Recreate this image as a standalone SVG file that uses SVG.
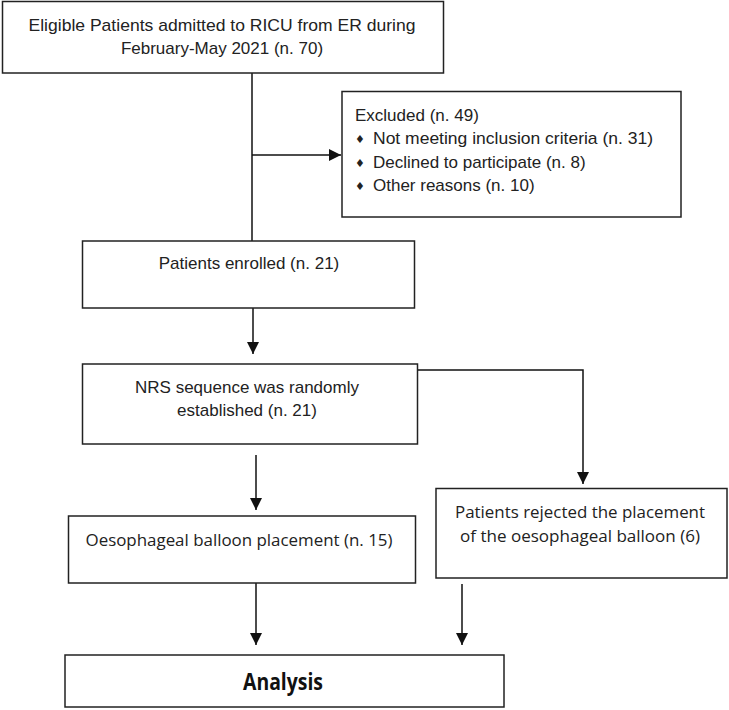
<svg xmlns="http://www.w3.org/2000/svg" width="729" height="710" viewBox="0 0 729 710">
<defs>
<style>
.box{fill:#fff;stroke:#222;stroke-width:1.5}
.ln{fill:none;stroke:#111;stroke-width:1.5}
.a{font-family:"Liberation Sans",Arial,sans-serif;font-size:17px;fill:#222}
.c{font-family:"Open Sans","Noto Sans",sans-serif;font-size:16px;fill:#222}
.b{font-family:"Open Sans","Noto Sans",sans-serif;font-size:23px;font-weight:bold;fill:#111}
.mid{text-anchor:middle}
.bul{font-family:"DejaVu Sans",sans-serif;font-size:11px;fill:#222}
</style>
<marker id="arr" markerWidth="12" markerHeight="14" refX="12" refY="7" orient="auto" markerUnits="userSpaceOnUse">
<path d="M0,1 L12,7 L0,13 Z" fill="#111"/>
</marker>
</defs>
<rect width="729" height="710" fill="#fff"/>
<g id="connectors">
<line class="ln" x1="252" y1="73" x2="252" y2="241"/>
<line class="ln" x1="252" y1="155" x2="341" y2="155" marker-end="url(#arr)"/>
<line class="ln" x1="253" y1="308" x2="253" y2="354" marker-end="url(#arr)"/>
<polyline class="ln" points="417,370 583,370 583,484" marker-end="url(#arr)"/>
<line class="ln" x1="256" y1="455" x2="256" y2="510" marker-end="url(#arr)"/>
<line class="ln" x1="256" y1="583" x2="256" y2="645" marker-end="url(#arr)"/>
<line class="ln" x1="462" y1="584" x2="462" y2="645" marker-end="url(#arr)"/>
</g>
<g id="eligible">
<rect class="box" x="2.5" y="1.5" width="441" height="71.5"/>
<text class="a mid" x="222" y="31" textLength="387" lengthAdjust="spacingAndGlyphs">Eligible Patients admitted to RICU from ER during</text>
<text class="a mid" x="222" y="54">February-May 2021  (n. 70)</text>
</g>
<g id="excluded">
<rect class="box" x="342" y="91.5" width="339" height="125.5"/>
<text class="a" x="355" y="121">Excluded  (n. 49)</text>
<text class="bul" x="355" y="143">♦</text>
<text class="a" x="373" y="144" textLength="280" lengthAdjust="spacingAndGlyphs">Not meeting inclusion criteria (n. 31)</text>
<text class="bul" x="355" y="167">♦</text>
<text class="a" x="373" y="168">Declined to participate (n. 8)</text>
<text class="bul" x="355" y="190">♦</text>
<text class="a" x="373" y="191">Other reasons (n. 10)</text>
</g>
<g id="enrolled">
<rect class="box" x="82.5" y="241" width="332" height="67"/>
<text class="a mid" x="249" y="269">Patients enrolled (n. 21)</text>
</g>
<g id="nrs">
<rect class="box" x="82.5" y="364" width="335" height="80"/>
<text class="a mid" x="247" y="393">NRS sequence was randomly</text>
<text class="a mid" x="247" y="416">established (n. 21)</text>
</g>
<g id="placement">
<rect class="box" x="68.5" y="516" width="347" height="67"/>
<text class="c mid" x="239" y="546" textLength="307" lengthAdjust="spacingAndGlyphs">Oesophageal balloon placement (n. 15)</text>
</g>
<g id="rejected">
<rect class="box" x="436" y="488.5" width="291" height="89.5"/>
<text class="c mid" x="580" y="518" textLength="250" lengthAdjust="spacingAndGlyphs">Patients rejected the placement</text>
<text class="c mid" x="580" y="542" textLength="240" lengthAdjust="spacingAndGlyphs">of the oesophageal balloon (6)</text>
</g>
<g id="analysis">
<rect class="box" x="65" y="655" width="439" height="52"/>
<text class="b mid" x="283" y="690" textLength="80" lengthAdjust="spacingAndGlyphs">Analysis</text>
</g>
</svg>
